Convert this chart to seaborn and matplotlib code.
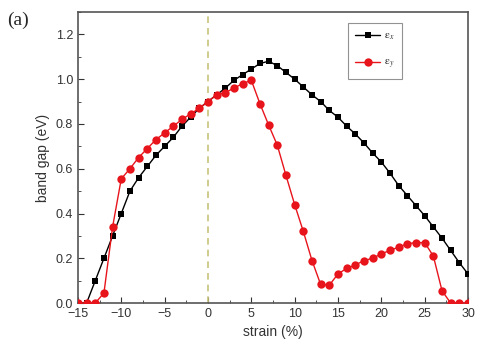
import numpy as np
import pandas as pd
import matplotlib
matplotlib.use('Agg')
import matplotlib.pyplot as plt
import seaborn as sns
from matplotlib.ticker import MultipleLocator

# strain values (%)
strain = list(range(-15, 31))

# band gap under strain along x (eV)
gap_x = [0.00, 0.00, 0.10, 0.20, 0.30, 0.40, 0.50, 0.56, 0.61, 0.66,
         0.70, 0.74, 0.79, 0.83, 0.87, 0.90, 0.93, 0.96, 0.995, 1.02,
         1.045, 1.07, 1.08, 1.06, 1.03, 1.00, 0.965, 0.93, 0.90, 0.86,
         0.83, 0.79, 0.755, 0.715, 0.67, 0.63, 0.58, 0.525, 0.48, 0.435,
         0.39, 0.34, 0.29, 0.235, 0.18, 0.13]

# band gap under strain along y (eV)
gap_y = [0.00, 0.00, 0.00, 0.045, 0.34, 0.555, 0.60, 0.65, 0.69, 0.73,
         0.76, 0.79, 0.82, 0.845, 0.87, 0.90, 0.93, 0.94, 0.96, 0.98,
         0.995, 0.89, 0.795, 0.705, 0.57, 0.44, 0.32, 0.19, 0.083, 0.08,
         0.13, 0.155, 0.17, 0.19, 0.20, 0.22, 0.235, 0.25, 0.265, 0.27,
         0.27, 0.21, 0.055, 0.00, 0.00, 0.00]

df = pd.DataFrame({'strain': strain, 'ex': gap_x, 'ey': gap_y})

sns.set_style('ticks')
plt.rcParams['font.family'] = ['Liberation Sans', 'DejaVu Sans']
plt.rcParams['mathtext.fontset'] = 'stix'

fig = plt.figure(figsize=(4.84, 3.52), dpi=100)
ax = fig.add_axes([0.161, 0.139, 0.806, 0.827])

ax.axvline(0, color='#c8c27a', ls=(0, (4, 3)), lw=1.2, zorder=1)

sns.lineplot(data=df, x='strain', y='ex', ax=ax, color='black', lw=1,
             marker='s', markersize=5, markeredgewidth=0,
             label=r'$\mathrm{\varepsilon}_x$', zorder=3)
sns.lineplot(data=df, x='strain', y='ey', ax=ax, color='#e8141c', lw=1,
             marker='o', markersize=6, markeredgewidth=0,
             label=r'$\mathrm{\varepsilon}_y$', zorder=4)

ax.set_xlim(-15, 30)
ax.set_ylim(0, 1.3)
ax.xaxis.set_major_locator(MultipleLocator(5))
ax.xaxis.set_minor_locator(MultipleLocator(2.5))
ax.yaxis.set_major_locator(MultipleLocator(0.2))
ax.yaxis.set_minor_locator(MultipleLocator(0.1))
ax.tick_params(which='both', direction='in', labelsize=9, colors='#333333',
               top=False, right=False)
ax.tick_params(which='major', length=4)
ax.tick_params(which='minor', length=2)
for s in ax.spines.values():
    s.set_color('#555555')
    s.set_linewidth(1.2)

ax.set_xlabel('strain (%)', fontsize=10, color='#333333')
ax.set_ylabel('band gap (eV)', fontsize=10, color='#333333')

leg = ax.legend(loc='upper right', bbox_to_anchor=(0.832, 0.962), fontsize=8,
                frameon=True, fancybox=False, handlelength=2.2,
                handletextpad=0.4, borderpad=0.7, labelspacing=1.4,
                borderaxespad=0)
leg.get_frame().set_edgecolor('#777777')
leg.get_frame().set_linewidth(0.8)

fig.text(0.015, 0.93, '(a)', fontsize=14, family=['Liberation Serif', 'DejaVu Serif'])

fig.savefig('out.png', dpi=100)
